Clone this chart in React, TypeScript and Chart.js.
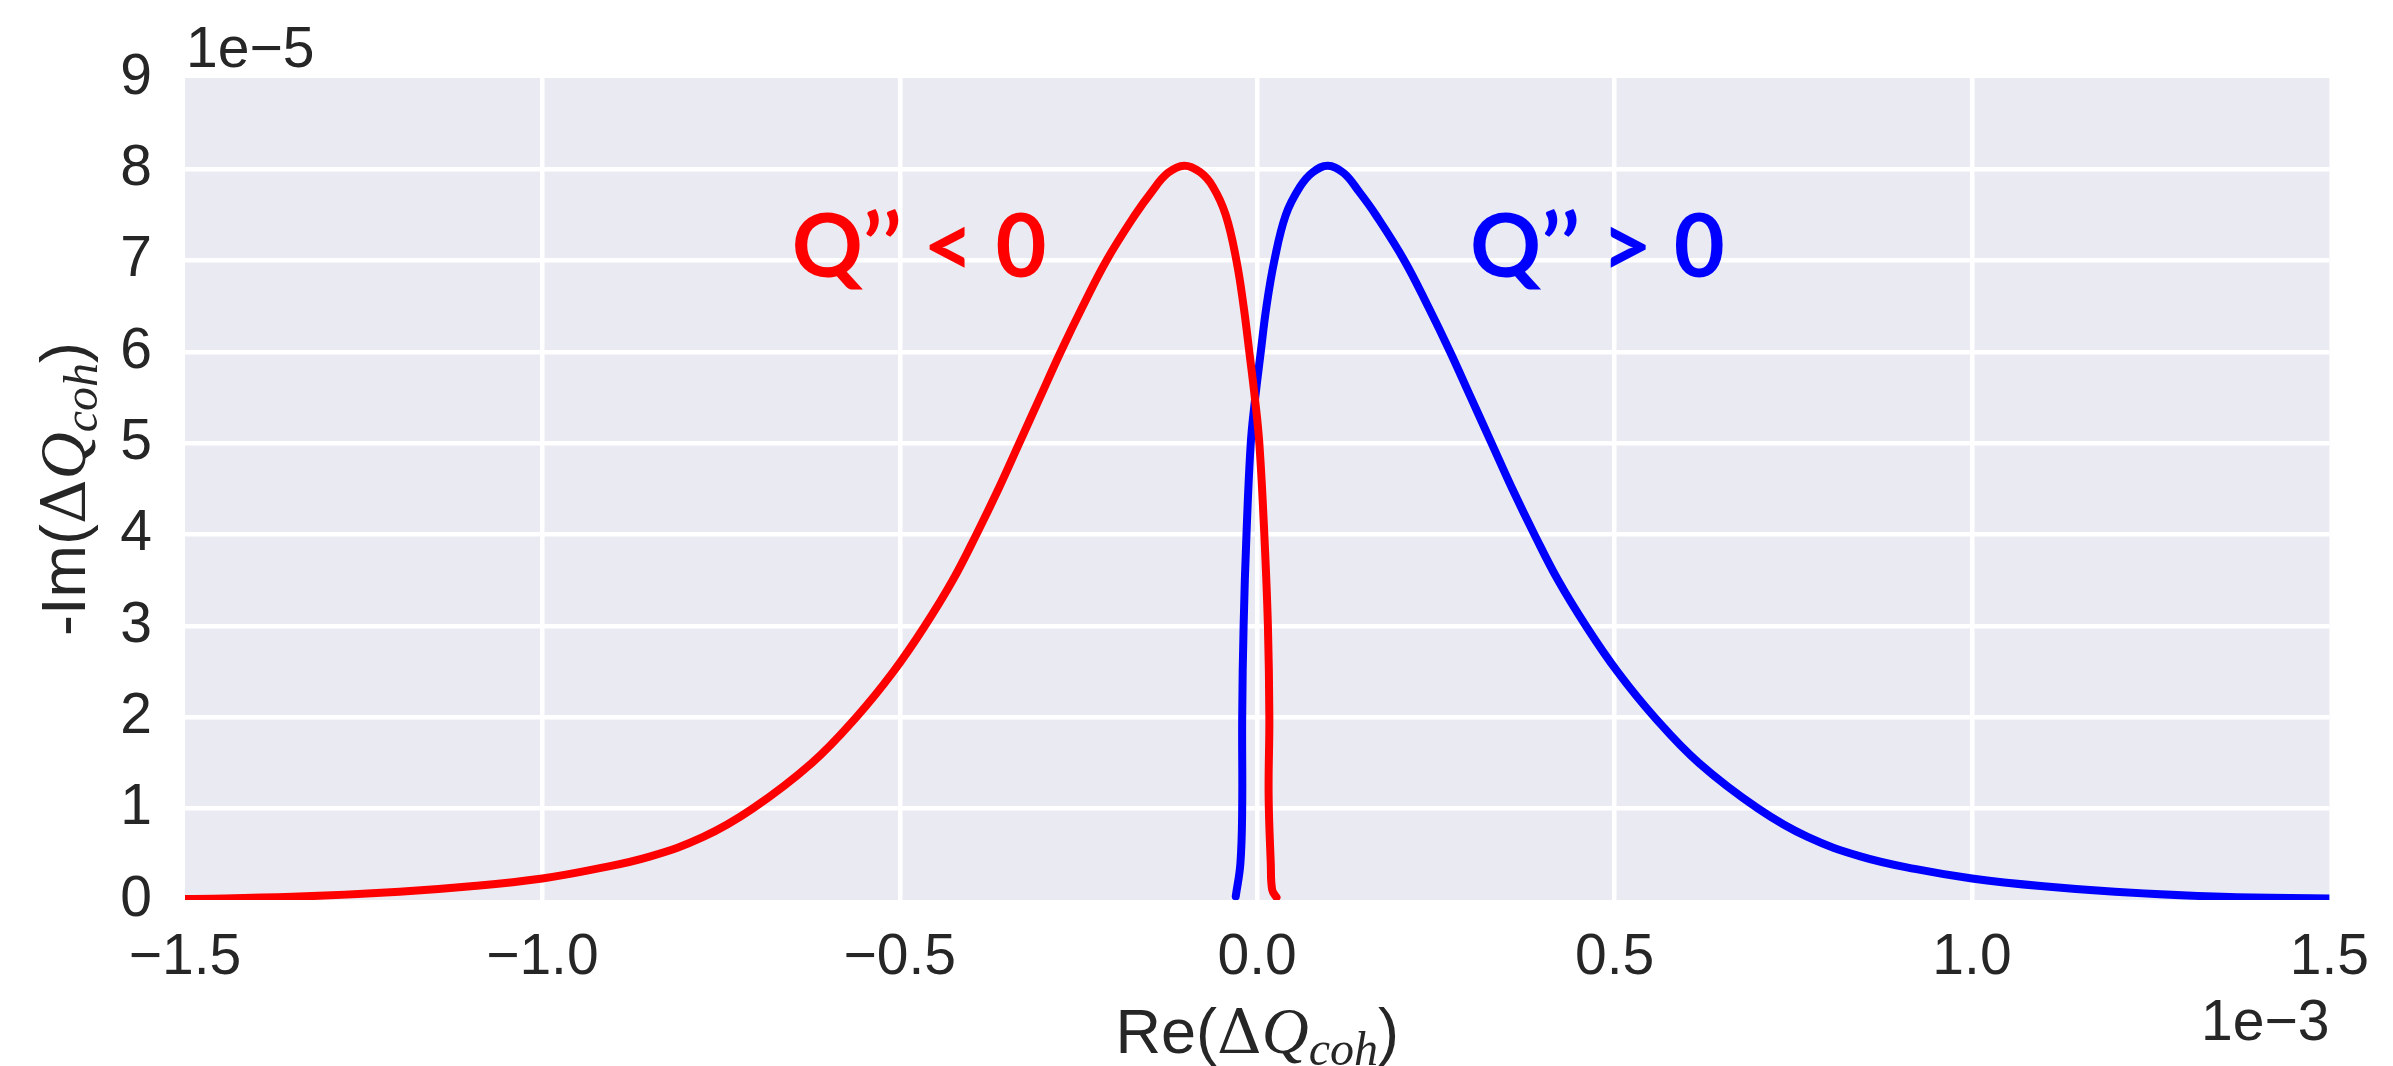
import React, { useEffect, useRef } from "react";
import { Chart, registerables } from "chart.js";

Chart.register(...registerables);

// Axis units: x in 1e-3, y in 1e-5
const X_TICKS = [-1.5, -1.0, -0.5, 0.0, 0.5, 1.0, 1.5];
const Y_TICKS = [0, 1, 2, 3, 4, 5, 6, 7, 8, 9];
const X_OFFSET_LABEL = "1e\u22123";
const Y_OFFSET_LABEL = "1e\u22125";

// Q'' < 0 (red) curve, ordered along the curve
const redX = [
  -1.5, -1.35, -1.2, -1.1, -1.0, -0.925, -0.85, -0.775, -0.706, -0.623, -0.561, -0.509, -0.465, -0.426,
  -0.393, -0.362, -0.333, -0.304, -0.275, -0.244, -0.211, -0.171, -0.148, -0.125, -0.102, -0.08,
  -0.062, -0.044, -0.029, -0.019, -0.011, -0.003, 0.003, 0.01, 0.015, 0.017, 0.016, 0.019, 0.021, 0.027,
];
const redY = [
  0.01, 0.035, 0.09, 0.15, 0.236, 0.34, 0.475, 0.69, 1.0, 1.5, 2.0, 2.5, 3.0, 3.5,
  4.0, 4.5, 5.0, 5.5, 6.0, 6.5, 7.0, 7.5, 7.75, 7.96, 8.04, 7.97,
  7.81, 7.5, 7.0, 6.5, 6.0, 5.48, 5.0, 4.0, 3.0, 2.0, 1.15, 0.4, 0.11, 0.03,
];

// Q'' > 0 (blue) curve, ordered along the curve
const blueX = [
  -0.03, -0.0235, -0.021, -0.021, -0.019, -0.015, -0.009, -0.003, 0.005, 0.013, 0.024, 0.04, 0.06,
  0.078, 0.099, 0.121, 0.143, 0.166, 0.206, 0.239, 0.27, 0.299, 0.328, 0.357, 0.388, 0.421, 0.46,
  0.504, 0.556, 0.618, 0.701, 0.77, 0.845, 0.92, 1.0, 1.1, 1.2, 1.35, 1.5,
];
const blueY = [
  0.04, 0.4, 1.0, 2.0, 3.0, 4.0, 5.0, 5.48, 6.0, 6.5, 7.0, 7.5, 7.81,
  7.97, 8.04, 7.96, 7.75, 7.5, 7.0, 6.5, 6.0, 5.5, 5.0, 4.5, 4.0, 3.5, 3.0,
  2.5, 2.0, 1.5, 1.0, 0.69, 0.475, 0.34, 0.236, 0.15, 0.09, 0.035, 0.016,
];

const annotationTexts = ["Q\u2019\u2019 < 0", "Q\u2019\u2019 > 0"];
const annotationX = [-0.473, 0.476];
const annotationY = [6.82, 6.82];
const annotationColors = ["#ff0000", "#0000ff"];

const TEXT_COLOR = "#262626";
const SANS = "'Liberation Sans', Arial, sans-serif";
const SERIF = "'Liberation Serif', 'DejaVu Serif', serif";

type Seg = { text: string; font: string; dy: number };

function titleSegs(prefix: string): Seg[] {
  return [
    { text: prefix, font: `63px ${SANS}`, dy: 0 },
    { text: "\u0394", font: `62px 'DejaVu Serif', serif`, dy: 0 },
    { text: "Q", font: `italic 65px ${SERIF}`, dy: 0 },
    { text: "coh", font: `italic 48px ${SERIF}`, dy: 12 },
    { text: ")", font: `63px ${SANS}`, dy: 0 },
  ];
}

function drawSegs(ctx: CanvasRenderingContext2D, segs: Seg[], cx: number, baseline: number) {
  let total = 0;
  const widths = segs.map((s) => {
    ctx.font = s.font;
    const w = ctx.measureText(s.text).width;
    total += w;
    return w;
  });
  let x = cx - total / 2;
  ctx.textAlign = "left";
  ctx.textBaseline = "alphabetic";
  segs.forEach((s, i) => {
    ctx.font = s.font;
    ctx.fillText(s.text, x, baseline + s.dy);
    x += widths[i];
  });
}

const decorPlugin = {
  id: "decor",
  beforeDraw(chart: any) {
    const { ctx, chartArea } = chart;
    ctx.save();
    ctx.fillStyle = "#eaeaf2";
    ctx.fillRect(chartArea.left, chartArea.top, chartArea.right - chartArea.left, chartArea.bottom - chartArea.top);
    ctx.restore();
  },
  afterDraw(chart: any) {
    const { ctx, chartArea, scales } = chart;
    ctx.save();
    ctx.fillStyle = TEXT_COLOR;
    ctx.font = `57px ${SANS}`;
    ctx.textBaseline = "alphabetic";
    ctx.textAlign = "left";
    ctx.fillText(Y_OFFSET_LABEL, chartArea.left + 1, chartArea.top - 11);
    ctx.textAlign = "right";
    ctx.fillText(X_OFFSET_LABEL, chartArea.right, chartArea.bottom + 140);
    drawSegs(ctx, titleSegs("Re("), (chartArea.left + chartArea.right) / 2, chartArea.bottom + 153);
    ctx.save();
    ctx.translate(chartArea.left - 100, (chartArea.top + chartArea.bottom) / 2);
    ctx.rotate(-Math.PI / 2);
    drawSegs(ctx, titleSegs("-Im("), 0, 0);
    ctx.restore();
    ctx.font = `bold 88px Lato, 'Open Sans', sans-serif`;
    ctx.textAlign = "center";
    ctx.textBaseline = "alphabetic";
    annotationTexts.forEach((t, i) => {
      ctx.fillStyle = annotationColors[i];
      ctx.fillText(t, scales.x.getPixelForValue(annotationX[i]), scales.y.getPixelForValue(annotationY[i]));
    });
    ctx.restore();
  },
};

function fmtX(v: number) {
  const s = Math.abs(v).toFixed(1);
  return v < -1e-9 ? "\u2212" + s : s;
}

export default function App() {
  const ref = useRef<HTMLCanvasElement>(null);
  useEffect(() => {
    if (!ref.current) return;
    const gridColor = (c: any) => {
      const v = c.tick ? c.tick.value : 0;
      return c.index === 0 || (c.scale && v === c.scale.max) ? "rgba(0,0,0,0)" : "#ffffff";
    };
    const lineStyle = {
      borderWidth: 8,
      showLine: true,
      pointRadius: 0,
      tension: 0.4,
      borderCapStyle: "round",
      borderJoinStyle: "round",
    };
    const chart = new Chart(ref.current, {
      type: "scatter",
      data: {
        datasets: [
          { ...lineStyle, data: redX.map((x, i) => ({ x, y: redY[i] })), borderColor: "#ff0000" },
          { ...lineStyle, data: blueX.map((x, i) => ({ x, y: blueY[i] })), borderColor: "#0000ff" },
        ],
      },
      options: {
        animation: false,
        responsive: false,
        devicePixelRatio: 1,
        layout: { padding: { left: 0, top: 78, right: 55, bottom: 0 } },
        plugins: { legend: { display: false }, tooltip: { enabled: false } },
        scales: {
          x: {
            type: "linear",
            min: -1.5,
            max: 1.5,
            afterBuildTicks: (s: any) => {
              s.ticks = X_TICKS.map((v) => ({ value: v }));
            },
            afterFit: (s: any) => {
              s.height = 166;
            },
            ticks: {
              callback: (v: any) => fmtX(Number(v)),
              font: { family: SANS, size: 57 },
              color: TEXT_COLOR,
              padding: 24,
              maxRotation: 0,
              autoSkip: false,
            },
            grid: { color: gridColor, lineWidth: 4.5, drawTicks: false },
            border: { display: false },
          },
          y: {
            type: "linear",
            min: 0,
            max: 9,
            afterBuildTicks: (s: any) => {
              s.ticks = Y_TICKS.map((v) => ({ value: v }));
            },
            afterFit: (s: any) => {
              s.width = 185;
            },
            ticks: {
              callback: (v: any) => String(v),
              font: { family: SANS, size: 57 },
              color: TEXT_COLOR,
              padding: 33,
              autoSkip: false,
            },
            grid: { color: gridColor, lineWidth: 4.5, drawTicks: false },
            border: { display: false },
          },
        },
      },
      plugins: [decorPlugin],
    } as any);
    return () => chart.destroy();
  }, []);
  return (
    <div style={{ position: "fixed", left: 0, top: 0, width: 2393, height: 1066, background: "#ffffff" }}>
      <canvas ref={ref} width={2393} height={1066} style={{ width: 2393, height: 1066 }} />
    </div>
  );
}
